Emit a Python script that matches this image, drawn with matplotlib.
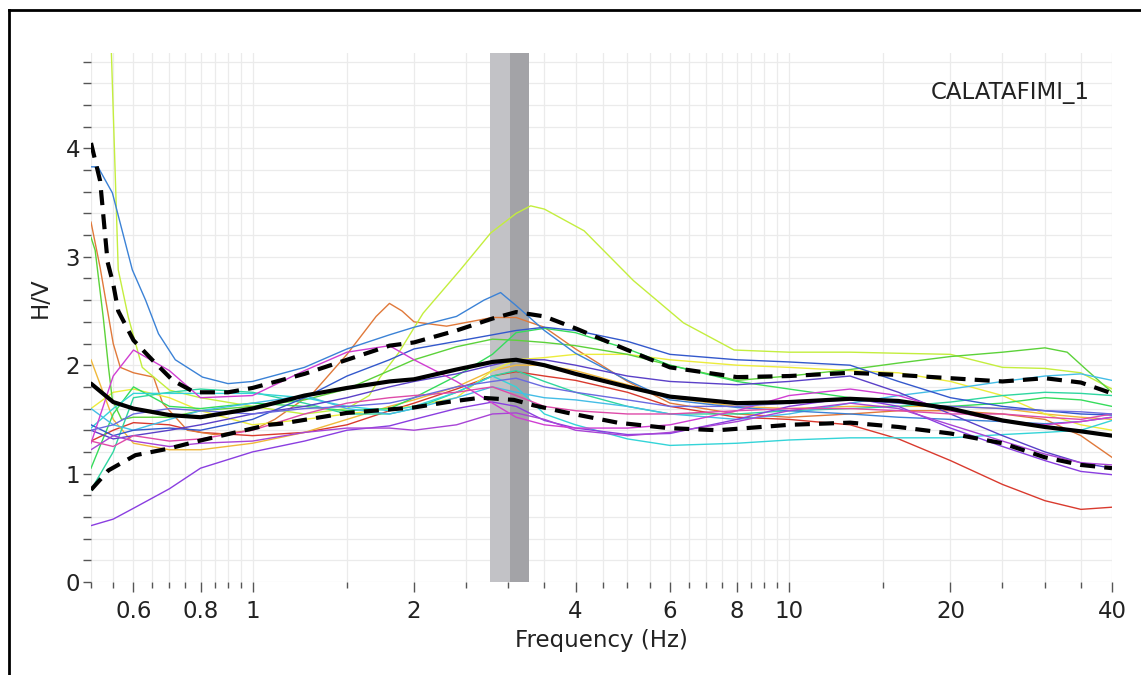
import numpy as np
import matplotlib
matplotlib.use("Agg")
import matplotlib.pyplot as plt
from matplotlib.lines import Line2D
from matplotlib.ticker import FixedLocator, NullFormatter

# ---------------- data ----------------
freq = [0.5, 0.55, 0.6, 0.7, 0.8, 1.0, 1.25, 1.5, 1.8, 2.0, 2.4, 2.8, 3.1, 3.5,
        4, 5, 6, 8, 10, 13, 16, 20, 25, 30, 35, 40]

red = [1.30, 1.40, 1.47, 1.45, 1.38, 1.35, 1.38, 1.45, 1.58, 1.65, 1.78, 1.90, 1.94,
       1.90, 1.86, 1.75, 1.62, 1.52, 1.50, 1.45, 1.32, 1.12, 0.90, 0.75, 0.67, 0.69]
gold = [2.05, 1.50, 1.28, 1.22, 1.22, 1.28, 1.38, 1.50, 1.62, 1.68, 1.80, 1.95, 2.00,
        2.00, 1.95, 1.82, 1.70, 1.62, 1.60, 1.62, 1.62, 1.62, 1.60, 1.55, 1.52, 1.50]
yellow = [1.60, 1.75, 1.78, 1.70, 1.58, 1.45, 1.50, 1.55, 1.60, 1.62, 1.70, 1.95, 2.05,
          2.07, 2.10, 2.10, 2.05, 2.00, 1.98, 1.95, 1.93, 1.85, 1.72, 1.55, 1.45, 1.40]
green2 = [1.05, 1.55, 1.80, 1.62, 1.60, 1.65, 1.62, 1.58, 1.60, 1.70, 1.90, 2.10, 2.30,
          2.34, 2.30, 2.15, 2.00, 1.85, 1.78, 1.70, 1.65, 1.62, 1.65, 1.70, 1.68, 1.62]
teal = [0.85, 1.20, 1.70, 1.75, 1.78, 1.75, 1.65, 1.55, 1.55, 1.60, 1.75, 1.90, 1.95,
        1.85, 1.75, 1.62, 1.55, 1.55, 1.58, 1.60, 1.62, 1.66, 1.72, 1.75, 1.74, 1.72]
cyan = [1.42, 1.60, 1.74, 1.74, 1.74, 1.74, 1.70, 1.62, 1.58, 1.62, 1.75, 1.90, 1.80,
        1.55, 1.45, 1.32, 1.26, 1.28, 1.31, 1.33, 1.33, 1.33, 1.36, 1.38, 1.40, 1.49]
skyblue = [1.60, 1.45, 1.40, 1.50, 1.58, 1.65, 1.72, 1.60, 1.55, 1.60, 1.70, 1.80, 1.75,
           1.70, 1.68, 1.62, 1.55, 1.50, 1.55, 1.65, 1.72, 1.78, 1.85, 1.90, 1.92, 1.86]
blue = [1.45, 1.35, 1.40, 1.42, 1.40, 1.50, 1.70, 1.90, 2.05, 2.15, 2.22, 2.28, 2.32,
        2.35, 2.32, 2.22, 2.10, 2.05, 2.03, 2.00, 1.85, 1.70, 1.62, 1.58, 1.55, 1.54]
indigo = [1.40, 1.32, 1.35, 1.40, 1.45, 1.55, 1.62, 1.70, 1.80, 1.85, 1.92, 2.00, 2.05,
          2.05, 2.00, 1.90, 1.85, 1.82, 1.85, 1.90, 1.75, 1.55, 1.35, 1.20, 1.10, 1.05]
violet = [0.52, 0.58, 0.68, 0.86, 1.05, 1.20, 1.30, 1.40, 1.44, 1.50, 1.60, 1.66, 1.62,
          1.49, 1.42, 1.36, 1.37, 1.50, 1.62, 1.70, 1.62, 1.42, 1.25, 1.12, 1.02, 0.99]
purple = [1.22, 1.35, 1.30, 1.25, 1.28, 1.30, 1.38, 1.42, 1.42, 1.40, 1.45, 1.55, 1.56,
          1.50, 1.40, 1.35, 1.38, 1.48, 1.58, 1.65, 1.60, 1.45, 1.30, 1.18, 1.10, 1.08]
magenta = [1.28, 1.90, 2.14, 1.95, 1.70, 1.72, 1.95, 2.12, 2.18, 2.05, 1.85, 1.65, 1.52,
           1.45, 1.42, 1.42, 1.45, 1.58, 1.72, 1.78, 1.72, 1.58, 1.48, 1.45, 1.48, 1.52]
pink = [1.30, 1.25, 1.35, 1.30, 1.32, 1.40, 1.55, 1.65, 1.70, 1.72, 1.75, 1.80, 1.72,
        1.62, 1.58, 1.55, 1.55, 1.58, 1.60, 1.60, 1.58, 1.55, 1.55, 1.52, 1.50, 1.55]
slate = [1.40, 1.45, 1.55, 1.60, 1.58, 1.55, 1.60, 1.62, 1.65, 1.70, 1.80, 1.85, 1.88,
         1.80, 1.75, 1.68, 1.62, 1.62, 1.65, 1.68, 1.65, 1.62, 1.60, 1.58, 1.57, 1.55]

freq_orange = [0.5, 0.52, 0.55, 0.567, 0.6, 0.654, 0.68, 0.756, 0.85, 1.0, 1.1, 1.3, 1.5,
               1.7, 1.8, 1.9, 2.0, 2.3, 2.8, 3.1, 3.5, 4, 5, 6, 8, 10, 13, 16, 20, 25,
               30, 35, 40]
orange = [3.32, 2.90, 2.20, 1.98, 1.93, 1.89, 1.65, 1.40, 1.36, 1.40, 1.50, 1.75, 2.10,
          2.45, 2.57, 2.50, 2.40, 2.36, 2.44, 2.44, 2.35, 2.15, 1.85, 1.65, 1.55, 1.52,
          1.55, 1.58, 1.58, 1.55, 1.50, 1.35, 1.15]

freq_lime = [0.54, 0.562, 0.587, 0.623, 0.7, 0.8, 1.0, 1.25, 1.5, 1.65, 1.73, 1.87, 2.08,
             2.44, 2.78, 3.1, 3.3, 3.5, 4.15, 5.13, 6.36, 7.9, 10, 13, 16, 20, 25, 30,
             35, 40]
lime = [5.60, 2.88, 2.44, 1.98, 1.77, 1.70, 1.62, 1.55, 1.60, 1.72, 1.89, 2.11, 2.48,
        2.88, 3.22, 3.40, 3.47, 3.44, 3.24, 2.78, 2.39, 2.14, 2.12, 2.12, 2.11, 2.10,
        1.98, 1.97, 1.93, 1.78]

freq_green = [0.5, 0.509, 0.527, 0.539, 0.548, 0.57, 0.6, 0.7, 0.8, 1.0, 1.25, 1.5, 1.8,
              2.0, 2.4, 2.8, 3.1, 3.5, 4, 5, 6, 8, 10, 13, 16, 20, 25, 30, 33, 36, 40]
green = [3.18, 3.06, 2.44, 1.98, 1.68, 1.50, 1.52, 1.52, 1.58, 1.62, 1.68, 1.78, 1.95,
         2.05, 2.17, 2.24, 2.23, 2.21, 2.18, 2.10, 2.00, 1.86, 1.90, 1.96, 2.02, 2.08,
         2.12, 2.16, 2.12, 1.95, 1.75]

freq_steel = [0.5, 0.515, 0.548, 0.597, 0.632, 0.668, 0.718, 0.807, 0.9, 1.0, 1.25, 1.5,
              1.8, 2.0, 2.4, 2.7, 2.9, 3.1, 3.5, 4, 5, 6, 8, 10, 13, 16, 20, 25, 30,
              35, 40]
steel = [3.83, 3.83, 3.59, 2.88, 2.60, 2.29, 2.05, 1.89, 1.83, 1.85, 1.98, 2.15, 2.28,
         2.35, 2.45, 2.60, 2.67, 2.55, 2.32, 2.11, 1.86, 1.68, 1.61, 1.58, 1.55, 1.52,
         1.50, 1.48, 1.46, 1.48, 1.52]

mean_hv = [1.83, 1.66, 1.60, 1.54, 1.52, 1.60, 1.72, 1.79, 1.85, 1.87, 1.96, 2.03, 2.05,
           2.00, 1.92, 1.80, 1.71, 1.65, 1.66, 1.69, 1.67, 1.60, 1.49, 1.43, 1.39, 1.35]

freq_hi = [0.5, 0.52, 0.537, 0.55, 0.562, 0.6, 0.65, 0.71, 0.78, 0.9, 1.0, 1.25, 1.5,
           1.8, 2.0, 2.4, 2.8, 3.1, 3.5, 4, 5, 6, 8, 10, 13, 16, 20, 25, 30, 35, 40]
std_hi = [4.05, 3.70, 2.95, 2.75, 2.50, 2.23, 2.05, 1.86, 1.75, 1.75, 1.79, 1.92, 2.05,
          2.18, 2.21, 2.32, 2.43, 2.49, 2.45, 2.34, 2.14, 1.98, 1.89, 1.90, 1.93, 1.91,
          1.88, 1.85, 1.88, 1.84, 1.74]

freq_lo = [0.5, 0.539, 0.605, 0.697, 0.807, 0.93, 1.07, 1.13, 1.5, 2.0, 2.31, 2.66, 3.07,
           3.34, 3.87, 4.79, 5.95, 7.37, 8.87, 10, 13, 16, 20, 25, 30, 35, 40]
std_lo = [0.85, 1.03, 1.17, 1.23, 1.31, 1.38, 1.45, 1.46, 1.56, 1.61, 1.66, 1.70, 1.68,
          1.63, 1.56, 1.47, 1.42, 1.40, 1.43, 1.45, 1.47, 1.43, 1.37, 1.28, 1.15, 1.08,
          1.05]

band_light = (2.77, 3.02)
band_dark = (3.02, 3.27)
station = "CALATAFIMI_1"

major_x = [0.6, 0.8, 1, 2, 4, 6, 8, 10, 20, 40]
major_x_labels = ["0.6", "0.8", "1", "2", "4", "6", "8", "10", "20", "40"]
minor_x = [0.5, 0.55, 0.65, 0.7, 0.75, 0.85, 0.9, 0.95, 1.5, 2.5, 3, 3.5, 4.5, 5, 5.5,
           6.5, 7, 7.5, 8.5, 9, 9.5, 15, 25, 30, 35]
major_y = [0, 1, 2, 3, 4]
minor_y = [0.2, 0.4, 0.6, 0.8, 1.2, 1.4, 1.6, 1.8, 2.2, 2.4, 2.6, 2.8, 3.2, 3.4, 3.6,
           3.8, 4.2, 4.4, 4.6, 4.8]

# ---------------- drawing ----------------
W, H = 1141, 675
fig = plt.figure(figsize=(W / 100, H / 100), dpi=100)
plt.rcParams["font.family"] = ["DejaVu Sans"]
ax = fig.add_axes([91 / W, 1 - 582 / H, (1112 - 91) / W, (582 - 53) / H])
ax.set_xscale("log")
ax.set_xlim(0.5, 40)
ax.set_ylim(0, 4.88)

for s in ax.spines.values():
    s.set_visible(False)

ax.xaxis.set_major_locator(FixedLocator(major_x))
ax.set_xticklabels(major_x_labels)
ax.xaxis.set_minor_locator(FixedLocator(minor_x))
ax.xaxis.set_minor_formatter(NullFormatter())
ax.yaxis.set_major_locator(FixedLocator(major_y))
ax.yaxis.set_minor_locator(FixedLocator(minor_y))
ax.yaxis.set_minor_formatter(NullFormatter())

ax.tick_params(axis="x", which="major", length=7, width=1, color="#555555",
               labelsize=16.5, pad=6)
ax.tick_params(axis="x", which="minor", length=4, width=1, color="#555555")
ax.tick_params(axis="y", which="both", length=6, width=1, color="#555555",
               labelsize=16.5, pad=2)
ax.grid(True, which="both", color="#ebebeb", lw=0.9)
ax.set_axisbelow(True)

ax.axvspan(*band_light, color="#c2c2c6", lw=0, zorder=1)
ax.axvspan(*band_dark, color="#a3a3a7", lw=0, zorder=1)

curves = [
    (freq, red, "#d93a2e"),
    (freq_orange, orange, "#e0793a"),
    (freq, gold, "#f0b83a"),
    (freq, yellow, "#ecec3c"),
    (freq_lime, lime, "#c4ee3e"),
    (freq_green, green, "#5cd23a"),
    (freq, green2, "#36dc5c"),
    (freq, teal, "#2fd6a0"),
    (freq, cyan, "#34d4d8"),
    (freq, skyblue, "#44bde6"),
    (freq_steel, steel, "#3b82d6"),
    (freq, blue, "#3358cc"),
    (freq, indigo, "#5a40c8"),
    (freq, violet, "#8a3ee0"),
    (freq, purple, "#a844d6"),
    (freq, magenta, "#d03ed2"),
    (freq, pink, "#de4aa8"),
    (freq, slate, "#6a6ae0"),
]
for fx, fy, c in curves:
    ax.plot(fx, fy, color=c, lw=1.0, zorder=3, clip_on=True)

ax.plot(freq, mean_hv, color="black", lw=3.0, zorder=5, solid_capstyle="round")
ax.plot(freq_hi, std_hi, color="black", lw=3.0, zorder=5, dashes=(3.6, 2.2))
ax.plot(freq_lo, std_lo, color="black", lw=3.0, zorder=5, dashes=(3.6, 2.2))

ax.set_xlabel("Frequency (Hz)", fontsize=16.5, labelpad=4, color="#222222")
fig.text(40 / W, 1 - 298 / H, "H/V", rotation=90, fontsize=16.5, ha="center",
         va="center", color="#222222")
fig.text(1090 / W, 1 - 93 / H, station, fontsize=16.5, ha="right", va="center",
         color="#222222")
for lab in ax.get_xticklabels() + ax.get_yticklabels():
    lab.set_color("#222222")

# outer frame
fig.add_artist(Line2D([9 / W, 9 / W], [1 - 10 / H, 0], transform=fig.transFigure,
                      color="black", lw=2))
fig.add_artist(Line2D([9 / W, 1], [1 - 10 / H, 1 - 10 / H], transform=fig.transFigure,
                      color="black", lw=2))

fig.savefig("out.png", dpi=100)
